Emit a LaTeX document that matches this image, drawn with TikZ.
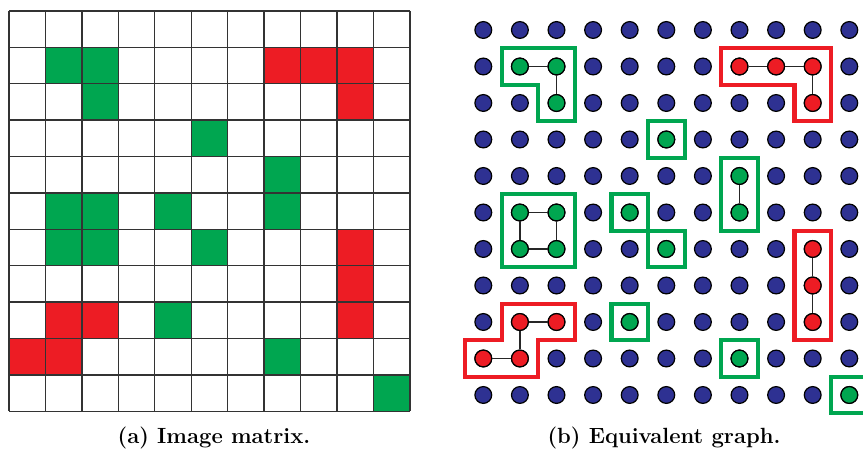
\documentclass[tikz,border=0pt]{standalone}
\usetikzlibrary{calc}
\definecolor{cellgreen}{RGB}{0,166,80}
\definecolor{cellred}{RGB}{237,28,36}
\definecolor{dotblue}{RGB}{46,49,146}

\begin{document}
\begin{tikzpicture}[
  x=0.5pt, y=-0.5pt,
  gridline/.style={draw=black!80, line width=0.7pt},
  dot/.style={circle, draw=black, line width=0.6pt, fill=dotblue,
              minimum size=8.4pt, inner sep=0pt},
  gdot/.style={dot, fill=cellgreen},
  rdot/.style={dot, fill=cellred},
  link/.style={draw=black!85, line width=0.6pt},
  gbox/.style={draw=cellgreen, line width=2.1pt},
  rbox/.style={draw=cellred, line width=2.1pt},
  caption/.style={font=\fontsize{11}{13}\selectfont\bfseries}
]
\useasboundingbox (0,0) rectangle (863,453);

% (a) Image matrix
\begin{scope}[shift={(9,11)}, x=18.22pt, y=-18.2pt]
  \foreach \r/\c in {1/1,1/2,2/2,3/5,4/7,5/7,5/1,5/2,5/4,6/1,6/2,6/5,8/4,9/7,10/10}
    \fill[cellgreen] (\c,\r) rectangle ++(1,1);
  \foreach \r/\c in {1/7,1/8,1/9,2/9,6/9,7/9,8/9,8/1,8/2,9/0,9/1}
    \fill[cellred] (\c,\r) rectangle ++(1,1);
  \foreach \i in {0,...,11} {
    \draw[gridline] (\i,0) -- (\i,11);
    \draw[gridline] (0,\i) -- (11,\i);
  }
\end{scope}

% (b) Equivalent graph
\begin{scope}[shift={(465,11.75)}, x=18.3pt, y=-18.25pt]
  % all pixels
  \foreach \r in {0,...,10}
    \foreach \c in {0,...,10}
      \node[dot] (d-\r-\c) at (\c+.5,\r+.5) {};

  % coloured pixels
  \foreach \r/\c in {1/1,1/2,2/2,3/5,4/7,5/7,5/1,5/2,5/4,6/1,6/2,6/5,8/4,9/7,10/10}
    \node[gdot] (g-\r-\c) at (d-\r-\c) {};
  \foreach \r/\c in {1/7,1/8,1/9,2/9,6/9,7/9,8/9,8/1,8/2,9/0,9/1}
    \node[rdot] (r-\r-\c) at (d-\r-\c) {};

  % Edges
  \draw[link] (g-1-1) -- (g-1-2);
  \draw[link] (g-1-2) -- (g-2-2);
  \draw[link] (g-4-7) -- (g-5-7);
  \draw[link] (g-5-1) -- (g-5-2);
  \draw[link] (g-5-2) -- (g-6-2);
  \draw[link] (g-6-2) -- (g-6-1);
  \draw[link] (g-6-1) -- (g-5-1);
  \draw[link] (r-1-7) -- (r-1-8);
  \draw[link] (r-1-8) -- (r-1-9);
  \draw[link] (r-1-9) -- (r-2-9);
  \draw[link] (r-6-9) -- (r-7-9);
  \draw[link] (r-7-9) -- (r-8-9);
  \draw[link] (r-8-1) -- (r-8-2);
  \draw[link] (r-8-1) -- (r-9-1);
  \draw[link] (r-9-1) -- (r-9-0);

  % Component outlines
  \draw[gbox] (1,1) -- (3,1) -- (3,3) -- (2,3) -- (2,2) -- (1,2) -- cycle;
  \draw[gbox] (5,3) rectangle (6,4);
  \draw[gbox] (7,4) rectangle (8,6);
  \draw[gbox] (1,5) rectangle (3,7);
  \draw[gbox] (4,5) rectangle (5,6);
  \draw[gbox] (5,6) rectangle (6,7);
  \draw[gbox] (4,8) rectangle (5,9);
  \draw[gbox] (7,9) rectangle (8,10);
  \draw[gbox] (10,10) rectangle (11,11);
  \draw[rbox] (7,1) -- (10,1) -- (10,3) -- (9,3) -- (9,2) -- (7,2) -- cycle;
  \draw[rbox] (9,6) rectangle (10,9);
  \draw[rbox] (1,8) -- (3,8) -- (3,9) -- (2,9) -- (2,10) -- (0,10) -- (0,9) -- (1,9) -- cycle;
\end{scope}

% Captions
\node[caption] (cap-a) at (214,438) {(a) Image matrix.};
\node[caption] (cap-b) at (664,438) {(b) Equivalent graph.};

\end{tikzpicture}
\end{document}
